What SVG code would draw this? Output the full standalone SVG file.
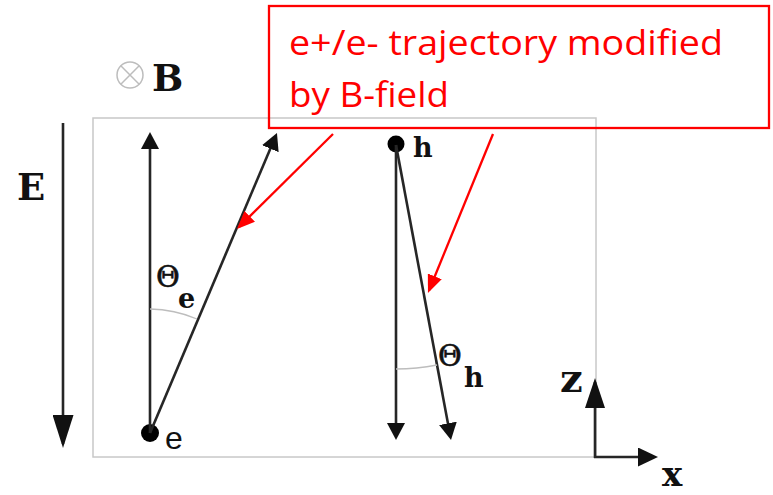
<svg xmlns="http://www.w3.org/2000/svg" width="773" height="495" viewBox="0 0 773 495">
<style>
.frame{fill:none;stroke:#c8c8c8;stroke-width:1.5}
.traj{fill:none;stroke:#262626;stroke-width:2.6}
.arc{fill:none;stroke:#bdbdbd;stroke-width:1.3}
.red{fill:none;stroke:#ff0000;stroke-width:2.3}
.lbl{font-family:"DejaVu Serif","Liberation Serif",serif;font-weight:bold;fill:#111}
.theta{font-family:"DejaVu Serif","Liberation Serif",serif;fill:#111;stroke:#111;stroke-width:0.6}
.note{font-family:"Open Sans","Liberation Sans",sans-serif;fill:#ff0000;font-size:34px}
</style>
<defs>
<marker id="ah" markerUnits="userSpaceOnUse" viewBox="0 0 17 18" markerWidth="17" markerHeight="18" refX="13" refY="9" orient="auto">
<path d="M0,0 L17,9 L0,18 z" fill="#111"/>
</marker>
<marker id="ahE" markerUnits="userSpaceOnUse" viewBox="0 0 33 21" markerWidth="33" markerHeight="21" refX="29" refY="10.5" orient="auto">
<path d="M0,0 L33,10.5 L0,21 z" fill="#111"/>
</marker>
<marker id="ahZ" markerUnits="userSpaceOnUse" viewBox="0 0 30 20" markerWidth="30" markerHeight="20" refX="26" refY="10" orient="auto">
<path d="M0,0 L30,10 L0,20 z" fill="#111"/>
</marker>
<marker id="ahX" markerUnits="userSpaceOnUse" viewBox="0 0 20 19" markerWidth="20" markerHeight="19" refX="16" refY="9.5" orient="auto">
<path d="M0,0 L20,9.5 L0,19 z" fill="#111"/>
</marker>
<marker id="ahR" markerUnits="userSpaceOnUse" viewBox="0 0 18 15" markerWidth="18" markerHeight="15" refX="15" refY="7.5" orient="auto">
<path d="M0,0 L18,7.5 L0,15 z" fill="#ff0000"/>
</marker>
</defs>

<rect id="frame" class="frame" x="93" y="118" width="503" height="339"/>

<g id="bfield">
<circle cx="130" cy="75" r="13" fill="none" stroke="#bdbdbd" stroke-width="1.5"/>
<path d="M120.8,65.8 L139.2,84.2 M139.2,65.8 L120.8,84.2" stroke="#bdbdbd" stroke-width="1.5"/>
<text class="lbl" x="152" y="91" font-size="37">B</text>
</g>

<g id="efield">
<text class="lbl" x="17" y="200" font-size="37">E</text>
</g>

<g id="electron">
<circle cx="150" cy="433" r="9" fill="#000"/>
<text x="165" y="449" font-family="Liberation Sans, Arial, sans-serif" font-size="32" fill="#111">e</text>
<text class="theta" x="156" y="287" font-size="29">Θ</text>
<text class="lbl" x="178" y="308" font-size="27">e</text>
</g>

<g id="hole">
<circle cx="396" cy="144" r="8.5" fill="#000"/>
<text class="lbl" x="413" y="157" font-size="27">h</text>
<text class="theta" x="438" y="366" font-size="29">Θ</text>
<text class="lbl" x="464" y="387" font-size="27">h</text>
</g>

<g id="axes">
<text class="lbl" x="560" y="392" font-size="40">z</text>
<text class="lbl" x="662" y="486" font-size="34">x</text>
</g>

<g id="note">
<rect class="red" x="269" y="6" width="500" height="122"/>
<text class="note" x="289" y="55" textLength="434" lengthAdjust="spacingAndGlyphs">e+/e- trajectory modified</text>
<text class="note" x="289" y="107" textLength="160" lengthAdjust="spacingAndGlyphs">by B-field</text>
</g>

<g id="connectors">
<line class="traj" x1="63" y1="123" x2="63" y2="444" marker-end="url(#ahE)"/>
<line class="traj" x1="150" y1="433" x2="150" y2="136" marker-end="url(#ah)"/>
<line class="traj" x1="150" y1="433" x2="275.4" y2="136.7" marker-end="url(#ah)"/>
<line class="traj" x1="396" y1="145" x2="396" y2="436" marker-end="url(#ah)"/>
<line class="traj" x1="396" y1="145" x2="450.3" y2="436.1" marker-end="url(#ah)"/>
<path class="arc" d="M150,309 A124,124 0 0 1 197,319"/>
<path class="arc" d="M396,369 A224,224 0 0 0 437,365"/>
<line class="traj" x1="595" y1="458" x2="595" y2="382" marker-end="url(#ahZ)"/>
<line class="traj" x1="594" y1="457" x2="654" y2="457" marker-end="url(#ahX)"/>
<line class="red" x1="333" y1="134" x2="239.1" y2="226.9" marker-end="url(#ahR)"/>
<line class="red" x1="493" y1="134" x2="429.1" y2="290.2" marker-end="url(#ahR)"/>
</g>
</svg>
